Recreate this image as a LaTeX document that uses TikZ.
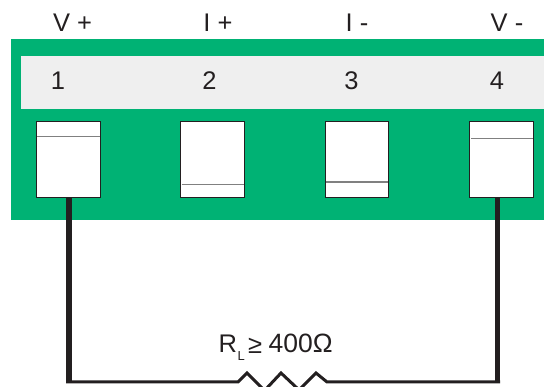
\documentclass[tikz,border=0pt]{standalone}
\usepackage{fontspec}
\setmainfont{Liberation Sans}
\definecolor{board}{HTML}{00B274}
\definecolor{strip}{HTML}{EFEFEF}
\definecolor{ink}{HTML}{231F20}
\definecolor{midline}{HTML}{808080}
\tikzset{
  px/.style={x=1pt,y=-1pt},
  lbl/.style={inner sep=0pt,text=ink,font=\fontsize{25.5}{28}\selectfont,anchor=base},
  term/.style={draw=ink,line width=1pt,fill=white,inner sep=0pt,minimum width=63.5pt,minimum height=76pt},
  bar/.style={draw=midline,line width=1.2pt},
  wire/.style={draw=ink,line width=5.4pt},
  lead/.style={draw=ink,line width=3pt,line join=miter}
}
\begin{document}
\begin{tikzpicture}[px]
\useasboundingbox (0,0) rectangle (544,387);
\fill[board] (11,39) rectangle (544,219.7);
\fill[strip] (21,56) rectangle (544,109);
\node[lbl] (lv) at (72.5,32) {V +};
\node[lbl] (li) at (218,32) {I +};
\node[lbl] (lj) at (357,32) {I -};
\node[lbl] (lw) at (507,32) {V -};
\node[lbl] (n1) at (58,90) {1};
\node[lbl] (n2) at (209.5,90) {2};
\node[lbl] (n3) at (351.5,90) {3};
\node[lbl] (n4) at (497,90) {4};
\node[term] (t1) at (68.3,160) {};
\node[term] (t2) at (212.7,160) {};
\node[term] (t3) at (357,160) {};
\node[term] (t4) at (501.3,160) {};
\draw[bar] (37,136.5) -- (99.5,136.5);
\draw[bar] (181.5,184.5) -- (244,184.5);
\draw[bar] (326,182) -- (388,182);
\draw[bar] (471,138.7) -- (532.5,138.7);
\coordinate (c1) at (69,382);
\coordinate (c4) at (497.5,382);
\coordinate (ra) at (238,382);
\coordinate (rb) at (327,382);
\draw[wire] (t1.south -| c1) -- (c1);
\draw[wire] (t4.south -| c4) -- (c4);
\draw[lead] (66,382) -- (ra) -- (247,373) -- (263,389);
\draw[lead] (266,389) -- (281,373) -- (298,389);
\draw[lead] (300,389) -- (316,373) -- (rb) -- (500,382);
\node[lbl,anchor=base west] (rl) at (218.5,352.5) {R};
\node[lbl,anchor=base west,font=\fontsize{13}{15}\selectfont] (rs) at (237.5,361) {L};
\node[lbl,anchor=base west] (rv) at (248,354) {≥};
\node[lbl,anchor=base west,font=\fontsize{26.5}{28}\selectfont] (rw) at (268.5,352.5) {400Ω};
\end{tikzpicture}
\end{document}
